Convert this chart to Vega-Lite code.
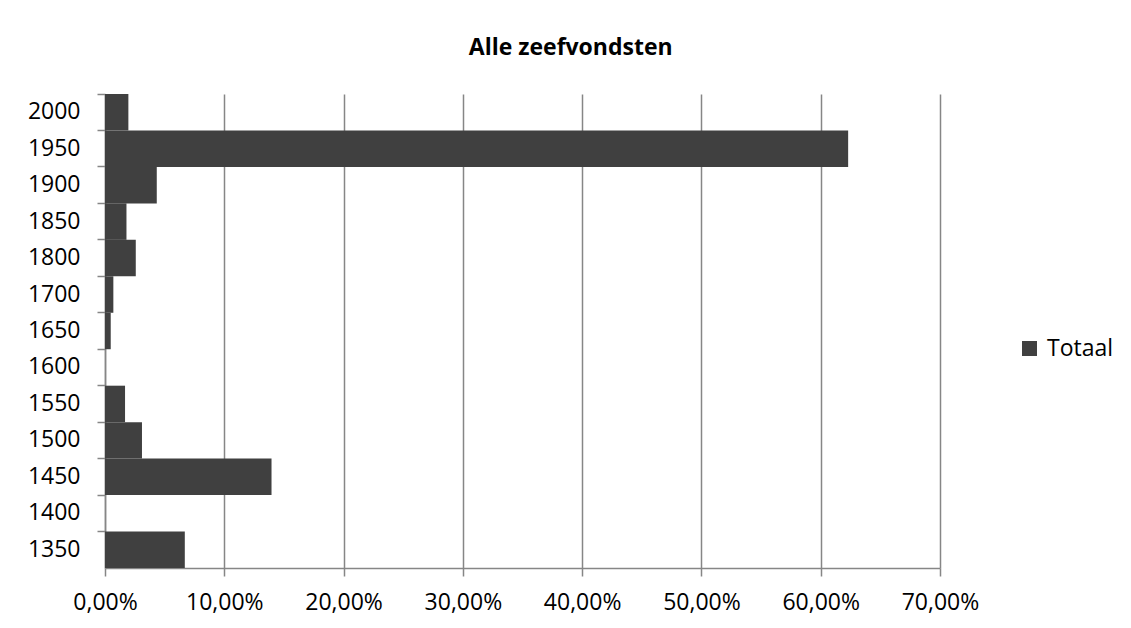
{
  "$schema": "https://vega.github.io/schema/vega-lite/v6.json",
  "autosize": {"type": "none"},
  "width": 835,
  "height": 474,
  "padding": {"left": 105, "top": 94, "right": 191, "bottom": 60},
  "background": "white",
  "title": {
    "text": "Alle zeefvondsten",
    "font": "Open Sans",
    "fontSize": 23,
    "fontWeight": "bold",
    "color": "#000000",
    "anchor": "middle",
    "frame": "bounds",
    "baseline": "alphabetic",
    "offset": 15
  },
  "data": {
    "values": [
      {"periode": "2000", "pct": 0.0196, "reeks": "Totaal"},
      {"periode": "1950", "pct": 0.623, "reeks": "Totaal"},
      {"periode": "1900", "pct": 0.0434, "reeks": "Totaal"},
      {"periode": "1850", "pct": 0.018, "reeks": "Totaal"},
      {"periode": "1800", "pct": 0.0258, "reeks": "Totaal"},
      {"periode": "1700", "pct": 0.007, "reeks": "Totaal"},
      {"periode": "1650", "pct": 0.0048, "reeks": "Totaal"},
      {"periode": "1600", "pct": 0, "reeks": "Totaal"},
      {"periode": "1550", "pct": 0.0168, "reeks": "Totaal"},
      {"periode": "1500", "pct": 0.031, "reeks": "Totaal"},
      {"periode": "1450", "pct": 0.1396, "reeks": "Totaal"},
      {"periode": "1400", "pct": 0, "reeks": "Totaal"},
      {"periode": "1350", "pct": 0.0669, "reeks": "Totaal"}
    ]
  },
  "mark": {"type": "bar"},
  "encoding": {
    "y": {
      "field": "periode",
      "type": "nominal",
      "sort": ["2000", "1950", "1900", "1850", "1800", "1700", "1650", "1600", "1550", "1500", "1450", "1400", "1350"],
      "scale": {"paddingInner": 0, "paddingOuter": 0},
      "axis": {
        "title": null,
        "bandPosition": 0,
        "grid": false,
        "domainColor": "#868686",
        "domainWidth": 1.5,
        "tickColor": "#868686",
        "tickWidth": 1.5,
        "tickSize": 8,
        "labelPadding": 17,
        "labelFont": "Open Sans",
        "labelFontSize": 23,
        "labelColor": "#000000"
      }
    },
    "x": {
      "field": "pct",
      "type": "quantitative",
      "scale": {"domain": [0, 0.7], "nice": false},
      "axis": {
        "title": null,
        "values": [0, 0.1, 0.2, 0.3, 0.4, 0.5, 0.6, 0.7],
        "labelExpr": "replace(format(datum.value, '.2%'), '.', ',')",
        "grid": true,
        "gridColor": "#868686",
        "gridWidth": 1.5,
        "domainColor": "#868686",
        "domainWidth": 1.5,
        "tickColor": "#868686",
        "tickWidth": 1.5,
        "tickSize": 8,
        "labelPadding": 15,
        "labelFont": "Open Sans",
        "labelFontSize": 23,
        "labelColor": "#000000",
        "labelFlush": false
      }
    },
    "color": {
      "field": "reeks",
      "type": "nominal",
      "scale": {"range": ["#404040"]},
      "legend": {
        "title": null,
        "orient": "none",
        "legendX": 913,
        "legendY": 243,
        "symbolType": "square",
        "symbolSize": 225,
        "symbolStrokeWidth": 0,
        "symbolOpacity": 1,
        "labelFont": "Open Sans",
        "labelFontSize": 23,
        "labelColor": "#000000",
        "labelOffset": 6
      }
    }
  },
  "config": {
    "view": {"stroke": null}
  }
}
